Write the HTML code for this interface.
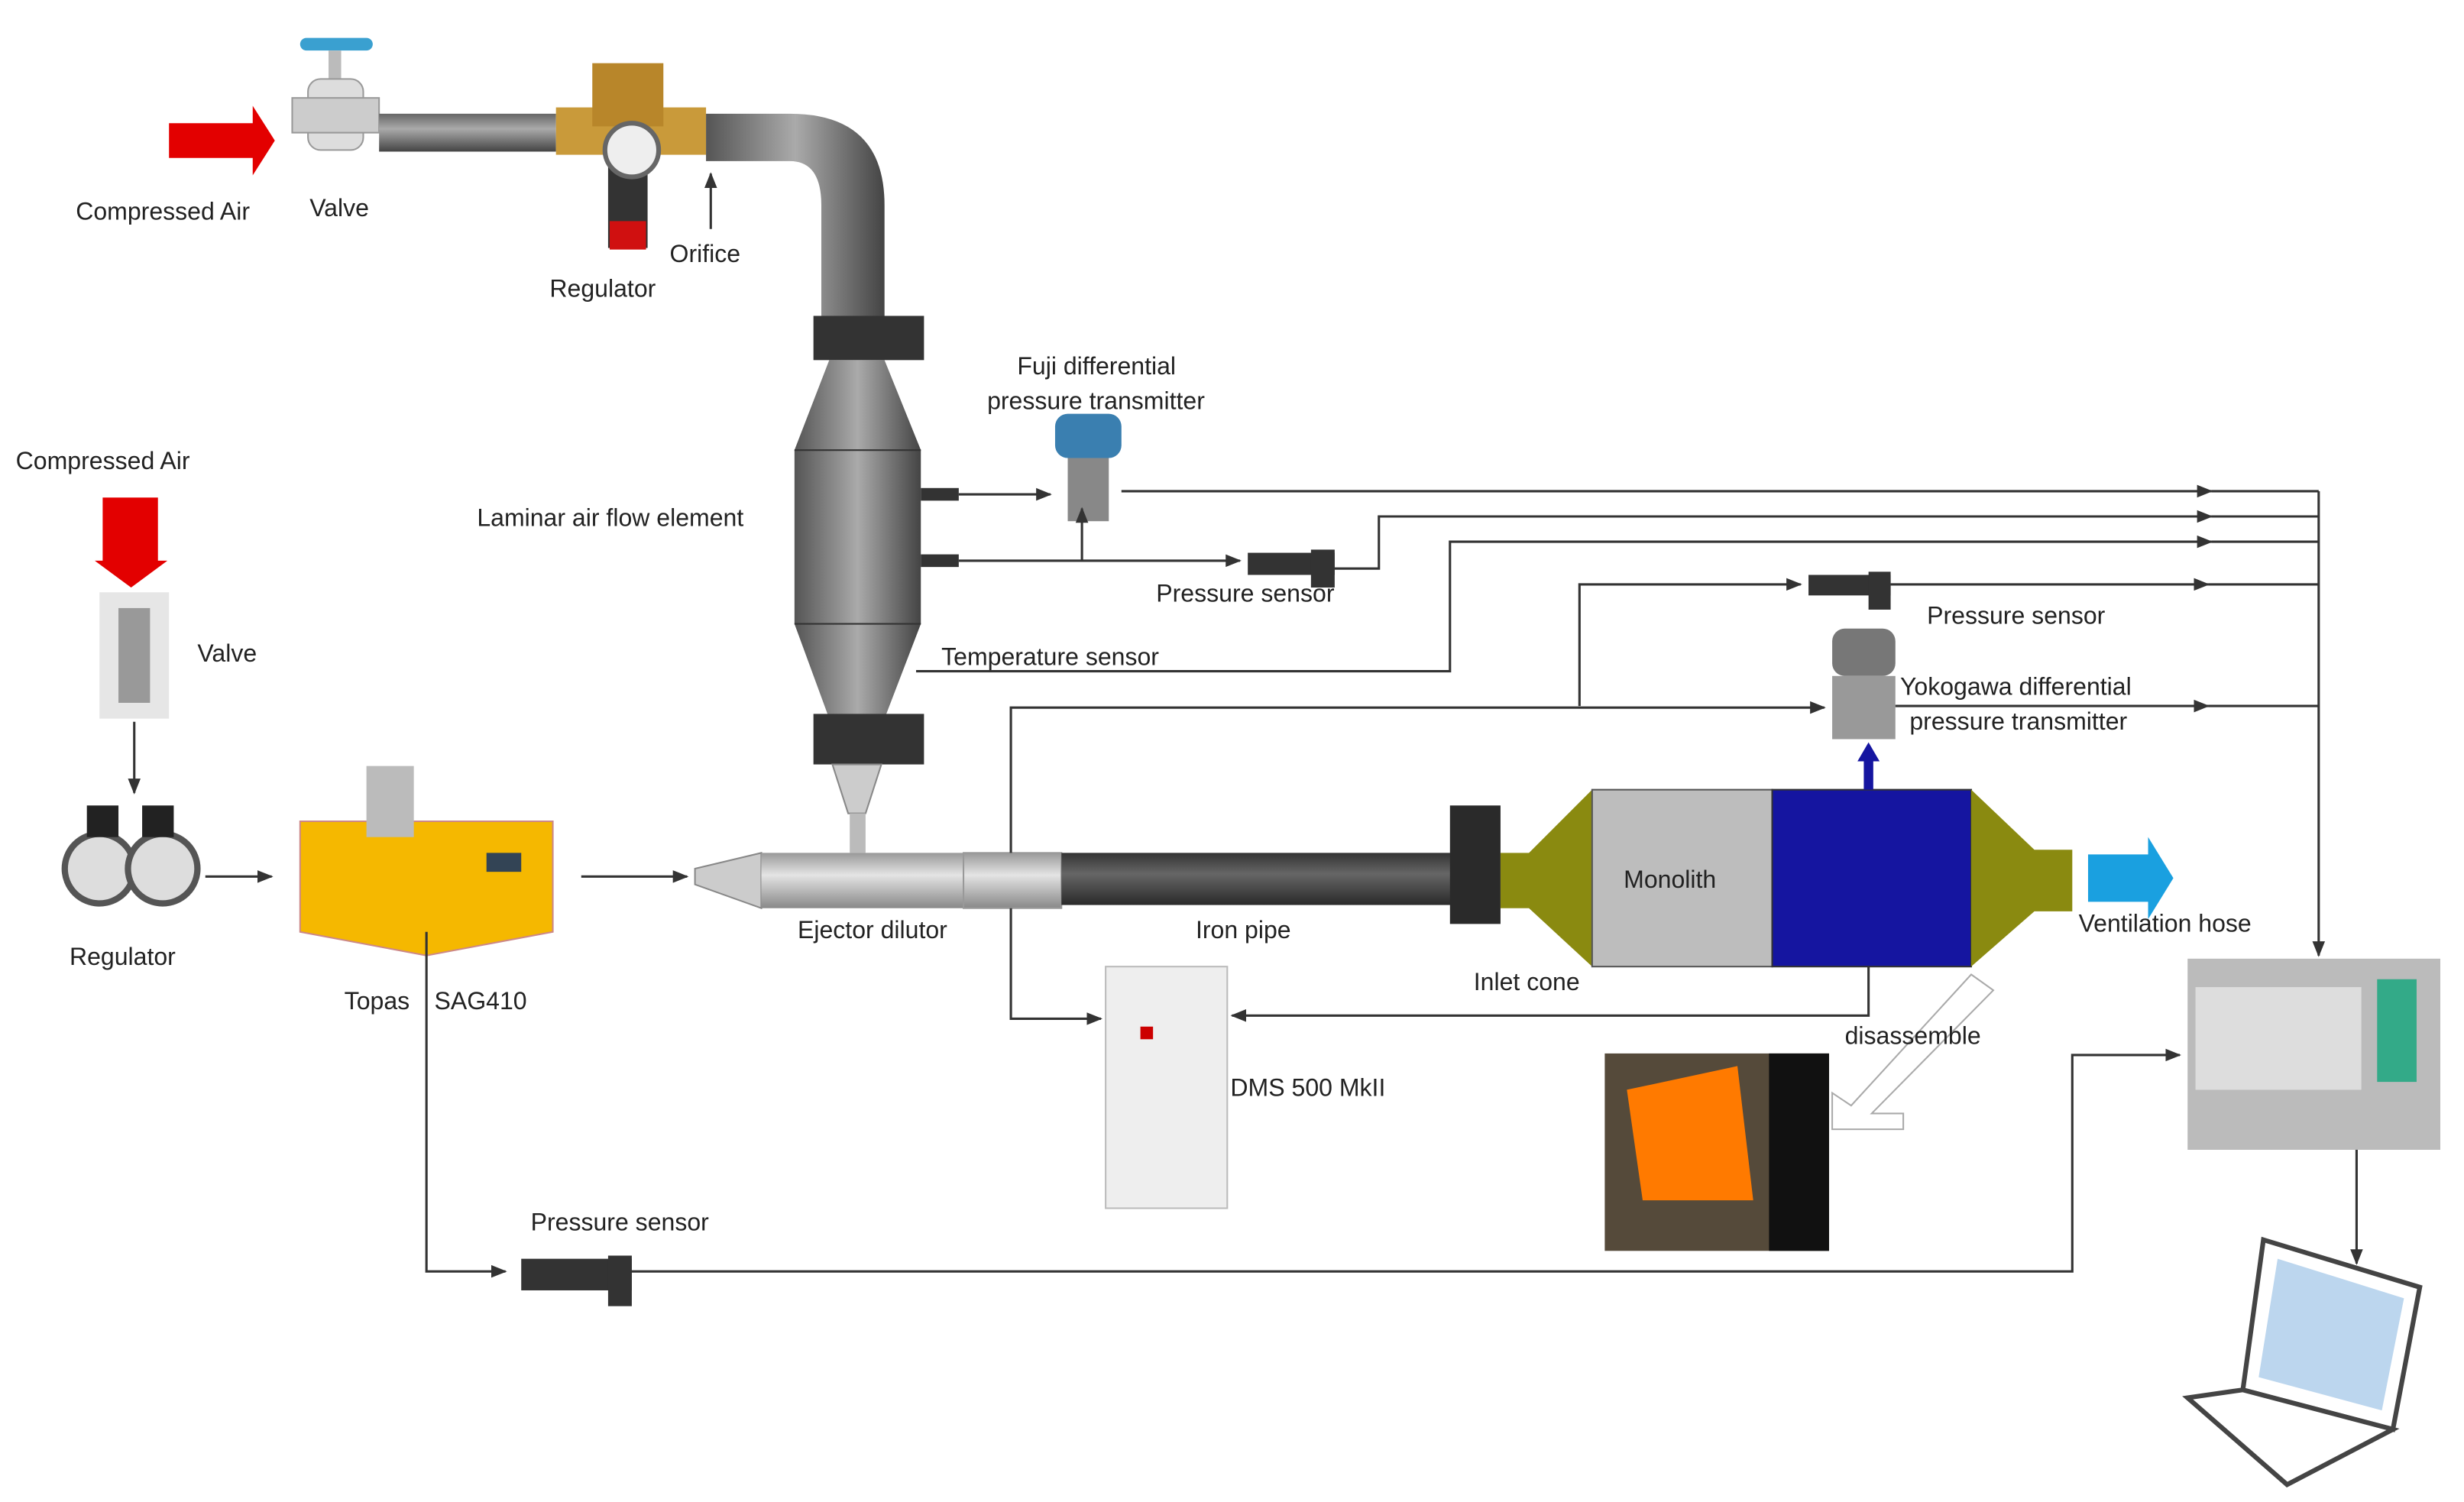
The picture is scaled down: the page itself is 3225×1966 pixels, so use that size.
<!DOCTYPE html>
<html><head><meta charset="utf-8"><style>
html,body{margin:0;padding:0;background:#fff}
svg{display:block}
text{font-family:"Liberation Sans",sans-serif;font-size:15.5px;fill:#222}
</style></head><body>
<svg width="3225" height="1966" viewBox="0 0 1560 951" preserveAspectRatio="none" xmlns="http://www.w3.org/2000/svg">
<defs>
<marker id="a" markerWidth="10" markerHeight="10" refX="9" refY="5" orient="auto" markerUnits="userSpaceOnUse"><path d="M0,1 L10,5 L0,9 Z" fill="#333"/></marker>
<linearGradient id="pv" x1="0" x2="1"><stop offset="0" stop-color="#555"/><stop offset=".5" stop-color="#aaa"/><stop offset="1" stop-color="#444"/></linearGradient>
<linearGradient id="ph" x1="0" y1="0" x2="0" y2="1"><stop offset="0" stop-color="#666"/><stop offset=".4" stop-color="#aaa"/><stop offset="1" stop-color="#444"/></linearGradient>
<linearGradient id="sil" x1="0" y1="0" x2="0" y2="1"><stop offset="0" stop-color="#999"/><stop offset=".4" stop-color="#e4e4e4"/><stop offset="1" stop-color="#888"/></linearGradient>
<linearGradient id="dk" x1="0" y1="0" x2="0" y2="1"><stop offset="0" stop-color="#333"/><stop offset=".4" stop-color="#666"/><stop offset="1" stop-color="#2a2a2a"/></linearGradient>
</defs>
<g stroke="#333" stroke-width="1.5" fill="none">
<!-- top pipe system -->
</g>
<!-- red arrow top -->
<path d="M107,78 L160,78 L160,67 L174,89 L160,111 L160,100 L107,100 Z" fill="#e30000"/>
<!-- valve -->
<rect x="190" y="24" width="46" height="8" rx="4" fill="#3aa0d0"/>
<rect x="208" y="32" width="8" height="20" fill="#bbb"/>
<rect x="195" y="50" width="35" height="45" rx="8" fill="#ddd" stroke="#999"/>
<rect x="185" y="62" width="55" height="22" fill="#ccc" stroke="#999"/>
<!-- pipe -->
<rect x="240" y="72" width="112" height="24" fill="url(#ph)"/>
<!-- regulator -->
<rect x="352" y="68" width="95" height="30" fill="#c99a3a"/>
<rect x="375" y="40" width="45" height="40" fill="#b8862a"/>
<rect x="385" y="95" width="25" height="62" fill="#333"/>
<rect x="386" y="140" width="23" height="18" fill="#d01010"/>
<circle cx="400" cy="95" r="17" fill="#eee" stroke="#666" stroke-width="3"/>
<!-- elbow -->
<path d="M447,72 L500,72 Q560,72 560,130 L560,205 L520,205 L520,130 Q520,102 500,102 L447,102 Z" fill="url(#pv)"/>
<!-- LFE -->
<rect x="515" y="200" width="70" height="28" fill="#333"/>
<path d="M525,228 L560,228 L583,285 L583,395 L560,455 L525,455 L503,395 L503,285 Z" fill="url(#pv)"/>
<line x1="503" y1="285" x2="583" y2="285" stroke="#333"/><line x1="503" y1="395" x2="583" y2="395" stroke="#333"/>
<rect x="515" y="452" width="70" height="32" fill="#333"/>
<path d="M527,484 L558,484 L548,515 L537,515 Z" fill="#ccc" stroke="#888"/>
<rect x="538" y="515" width="10" height="25" fill="#bbb"/>
<rect x="583" y="309" width="24" height="8" fill="#333"/><rect x="583" y="351" width="24" height="8" fill="#333"/>
<!-- main pipe -->
<path d="M440,550 L482,540 L482,575 L440,560 Z" fill="#ccc" stroke="#888"/>
<rect x="482" y="540" width="128" height="35" fill="url(#sil)"/>
<rect x="610" y="540" width="62" height="35" fill="url(#sil)" stroke="#999"/>
<rect x="672" y="540" width="253" height="33" fill="url(#dk)"/>
<rect x="918" y="510" width="32" height="75" fill="#2a2a2a"/>
<path d="M950,540 L968,540 L1008,500 L1008,612 L968,575 L950,575 Z" fill="#8a8a10"/>
<rect x="1008" y="500" width="114" height="112" fill="#bdbdbd" stroke="#555"/>
<rect x="1122" y="500" width="126" height="112" fill="#1515a0" stroke="#333"/>
<path d="M1248,500 L1288,538 L1312,538 L1312,577 L1288,577 L1248,612 Z" fill="#8a8a10"/>
<text x="1028" y="562">Monolith</text>
<path d="M1322,541 L1360,541 L1360,530 L1376,556 L1360,582 L1360,571 L1322,571 Z" fill="#1aa0e0"/>
<!-- left side -->
<path d="M65,315 L100,315 L100,355 L106,355 L83,372 L60,355 L65,355 Z" fill="#e30000"/>
<rect x="63" y="375" width="44" height="80" fill="#e6e6e6"/><rect x="75" y="385" width="20" height="60" fill="#999"/>
<circle cx="63" cy="550" r="22" fill="#ddd" stroke="#555" stroke-width="4"/><circle cx="103" cy="550" r="22" fill="#ddd" stroke="#555" stroke-width="4"/>
<rect x="55" y="510" width="20" height="20" fill="#222"/><rect x="90" y="510" width="20" height="20" fill="#222"/>
<path d="M190,520 L350,520 L350,590 L270,605 L190,590 Z" fill="#f5b800" stroke="#c88"/>
<rect x="232" y="485" width="30" height="45" fill="#bbb"/>
<rect x="308" y="540" width="22" height="12" fill="#345"/>
<!-- sensors -->
<g fill="#333">
<rect x="330" y="797" width="70" height="20"/><rect x="385" y="795" width="15" height="32"/>
<rect x="790" y="350" width="55" height="14"/><rect x="830" y="348" width="15" height="24"/>
<rect x="1145" y="364" width="52" height="13"/><rect x="1183" y="362" width="14" height="24"/>
</g>
<rect x="668" y="262" width="42" height="28" rx="8" fill="#3a7fb0"/><rect x="676" y="290" width="26" height="40" fill="#888"/>
<rect x="1160" y="398" width="40" height="30" rx="8" fill="#777"/><rect x="1160" y="428" width="40" height="40" fill="#999"/>
<!-- DMS -->
<rect x="700" y="612" width="77" height="153" fill="#eee" stroke="#bbb"/>
<rect x="722" y="650" width="8" height="8" fill="#c00"/>
<!-- photo -->
<rect x="1016" y="667" width="142" height="125" fill="#554a3a"/>
<path d="M1030,690 L1100,675 L1110,760 L1040,760 Z" fill="#ff7a00"/>
<rect x="1120" y="667" width="38" height="125" fill="#111"/>
<path d="M1248,617 L1262,627 L1185,705 L1205,705 L1205,715 L1160,715 L1160,692 L1172,700 Z" fill="#fff" stroke="#aaa"/>
<!-- data logger -->
<rect x="1385" y="607" width="160" height="121" fill="#bbb"/>
<rect x="1390" y="625" width="105" height="65" fill="#ddd"/>
<rect x="1505" y="620" width="25" height="65" fill="#3a8"/>
<!-- laptop -->
<path d="M1433,785 L1532,815 L1515,905 L1420,880 Z" fill="#fff" stroke="#444" stroke-width="3"/>
<path d="M1442,797 L1522,822 L1508,893 L1430,872 Z" fill="#bcd6ee"/>
<path d="M1420,880 L1515,905 L1448,940 L1385,885 Z" fill="#fff" stroke="#444" stroke-width="3"/>
<!-- connectors -->
<g stroke="#333" stroke-width="1.5" fill="none">
<line x1="450" y1="145" x2="450" y2="110" marker-end="url(#a)"/>
<line x1="85" y1="457" x2="85" y2="502" marker-end="url(#a)"/>
<line x1="130" y1="555" x2="172" y2="555" marker-end="url(#a)"/>
<line x1="368" y1="555" x2="435" y2="555" marker-end="url(#a)"/>
<polyline points="270,590 270,805 320,805" marker-end="url(#a)"/>
<polyline points="400,805 1312,805 1312,668 1380,668" marker-end="url(#a)"/>
<line x1="607" y1="313" x2="665" y2="313" marker-end="url(#a)"/>
<line x1="710" y1="311" x2="1400" y2="311" marker-end="url(#a)"/>
<line x1="685" y1="355" x2="685" y2="322" marker-end="url(#a)"/>
<line x1="607" y1="355" x2="785" y2="355" marker-end="url(#a)"/>
<polyline points="845,360 873,360 873,327 1400,327" marker-end="url(#a)"/>
<polyline points="580,425 918,425 918,343 1400,343" marker-end="url(#a)"/>
<polyline points="1000,447 1000,370 1140,370" marker-end="url(#a)"/>
<line x1="1197" y1="370" x2="1398" y2="370" marker-end="url(#a)"/>
<polyline points="640,540 640,448 1155,448" marker-end="url(#a)"/>
<line x1="1200" y1="447" x2="1398" y2="447" marker-end="url(#a)"/>
<line x1="1400" y1="311" x2="1468" y2="311"/><line x1="1400" y1="327" x2="1468" y2="327"/><line x1="1400" y1="343" x2="1468" y2="343"/><line x1="1398" y1="370" x2="1468" y2="370"/><line x1="1398" y1="447" x2="1468" y2="447"/>
<line x1="1468" y1="311" x2="1468" y2="605" marker-end="url(#a)"/>
<polyline points="640,575 640,645 697,645" marker-end="url(#a)"/>
<polyline points="1183,612 1183,643 780,643" marker-end="url(#a)"/>
<line x1="1492" y1="728" x2="1492" y2="800" marker-end="url(#a)"/>
</g>
<path d="M1180,500 L1180,482 L1176,482 L1183,470 L1190,482 L1186,482 L1186,500 Z" fill="#1515a0"/>
<!-- labels -->
<text x="48" y="139">Compressed Air</text>
<text x="196" y="137">Valve</text>
<text x="348" y="188">Regulator</text>
<text x="424" y="166">Orifice</text>
<text x="644" y="237">Fuji differential</text>
<text x="625" y="259">pressure transmitter</text>
<text x="10" y="297">Compressed Air</text>
<text x="302" y="333">Laminar air flow element</text>
<text x="732" y="381">Pressure sensor</text>
<text x="596" y="421">Temperature sensor</text>
<text x="125" y="419">Valve</text>
<text x="1220" y="395">Pressure sensor</text>
<text x="1203" y="440">Yokogawa differential</text>
<text x="1209" y="462">pressure transmitter</text>
<text x="1316" y="590">Ventilation hose</text>
<text x="505" y="594">Ejector dilutor</text>
<text x="757" y="594">Iron pipe</text>
<text x="44" y="611">Regulator</text>
<text x="933" y="627">Inlet cone</text>
<text x="218" y="639">Topas</text>
<text x="275" y="639">SAG410</text>
<text x="1168" y="661">disassemble</text>
<text x="779" y="694">DMS 500 MkII</text>
<text x="336" y="779">Pressure sensor</text>
</svg>
</body></html>
